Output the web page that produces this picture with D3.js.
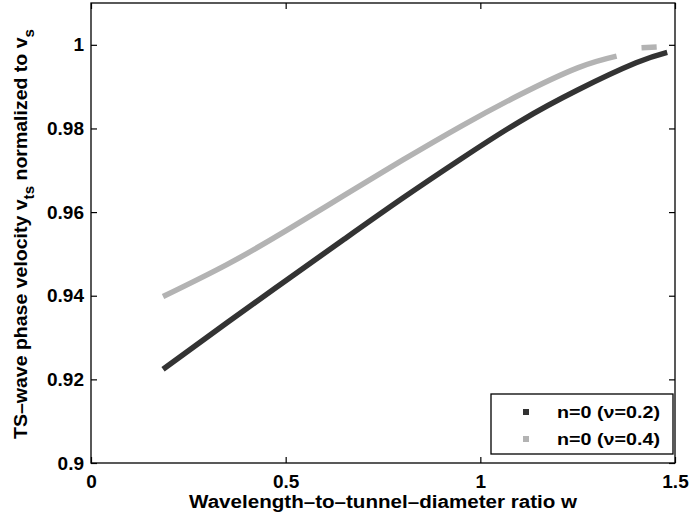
<!DOCTYPE html>
<html>
<head>
<meta charset="utf-8">
<script src="https://cdn.jsdelivr.net/npm/d3@7"></script>
<style>
  html, body { margin: 0; padding: 0; background: #fff; }
  svg { display: block; }
  text { font-family: "Liberation Sans", Arial, Helvetica, sans-serif; font-weight: bold; fill: #000; }
</style>
</head>
<body>
<svg id="chart" width="689" height="517"></svg>
<script>
// Wavelength-to-diameter ratio samples and normalized phase velocity
const wDark  = [0.185, 0.35, 0.5, 0.65, 0.8, 0.95, 1.1, 1.25, 1.4, 1.48];
const vDark  = [0.9224, 0.9336, 0.9436, 0.9535, 0.9633, 0.9727, 0.9816, 0.9892, 0.9957, 0.9982];
const wLight = [0.185, 0.35, 0.5, 0.65, 0.8, 0.95, 1.1, 1.25, 1.35];
const vLight = [0.9398, 0.9475, 0.9555, 0.9640, 0.9724, 0.9805, 0.9880, 0.9945, 0.9973];
const wLightTail = [1.414, 1.453];
const vLightTail = [0.9993, 0.9995];

const xTicks = [0, 0.5, 1, 1.5];
const xTickLabels = ["0", "0.5", "1", "1.5"];
const yTicks = [0.9, 0.92, 0.94, 0.96, 0.98, 1];
const yTickLabels = ["0.9", "0.92", "0.94", "0.96", "0.98", "1"];

const seriesNames = ["n=0 (\u03bd=0.2)", "n=0 (\u03bd=0.4)"];
const seriesColors = ["#333333", "#b3b3b3"];

const svg = d3.select("#chart");
const L = 91, R = 675, T = 3, B = 463;

const x = d3.scaleLinear().domain([0, 1.5]).range([L, R]);
const y = d3.scaleLinear().domain([0.9, 1.01]).range([B, T]);

const line = d3.line()
  .x(d => x(d[0]))
  .y(d => y(d[1]))
  .curve(d3.curveNatural);

const zip = (a, b) => a.map((v, i) => [v, b[i]]);

// curves
svg.append("path").datum(zip(wLight, vLight))
  .attr("d", line).attr("fill", "none")
  .attr("stroke", seriesColors[1]).attr("stroke-width", 5.5);
svg.append("path").datum(zip(wLightTail, vLightTail))
  .attr("d", line).attr("fill", "none")
  .attr("stroke", seriesColors[1]).attr("stroke-width", 5.5);
svg.append("path").datum(zip(wDark, vDark))
  .attr("d", line).attr("fill", "none")
  .attr("stroke", seriesColors[0]).attr("stroke-width", 5.5);

// axes (ticks pointing inward on every side)
const tl = 6;
const axBottom = svg.append("g").attr("transform", `translate(0,${B})`)
  .call(d3.axisBottom(x).tickValues(xTicks).tickSize(-tl).tickPadding(12)
    .tickFormat((d, i) => xTickLabels[i]));
const axTop = svg.append("g").attr("transform", `translate(0,${T})`)
  .call(d3.axisTop(x).tickValues(xTicks).tickSize(-tl).tickFormat(""));
const axLeft = svg.append("g").attr("transform", `translate(${L},0)`)
  .call(d3.axisLeft(y).tickValues(yTicks).tickSize(-tl).tickPadding(7)
    .tickFormat((d, i) => yTickLabels[i]));
const axRight = svg.append("g").attr("transform", `translate(${R},0)`)
  .call(d3.axisRight(y).tickValues(yTicks).tickSize(-tl).tickFormat(""));

[axBottom, axTop, axLeft, axRight].forEach(g => {
  g.select(".domain").remove();
  g.selectAll(".tick line").attr("stroke", "#000").attr("stroke-width", 1.2);
  g.selectAll("text").attr("font-size", 19).attr("font-family", null).attr("fill", "#000");
});

svg.append("rect").attr("x", L).attr("y", T).attr("width", R - L).attr("height", B - T)
  .attr("fill", "none").attr("stroke", "#000").attr("stroke-width", 1.3);

// axis titles
svg.append("text")
  .attr("x", (L + R) / 2).attr("y", 508)
  .attr("text-anchor", "middle").attr("font-size", 18)
  .attr("textLength", 388).attr("lengthAdjust", "spacingAndGlyphs")
  .text("Wavelength\u2013to\u2013tunnel\u2013diameter ratio w");

const yl = svg.append("text")
  .attr("transform", `translate(27,${(T + B) / 2 + 1}) rotate(-90)`)
  .attr("text-anchor", "middle").attr("font-size", 18)
  .attr("textLength", 410).attr("lengthAdjust", "spacingAndGlyphs");
yl.append("tspan").text("TS\u2013wave phase velocity v");
yl.append("tspan").attr("font-size", 14).attr("dy", 7).text("ts");
yl.append("tspan").attr("dy", -7).text(" normalized to v");
yl.append("tspan").attr("font-size", 14).attr("dy", 7).text("s");

// legend
const lg = svg.append("g");
lg.append("rect").attr("x", 491).attr("y", 394).attr("width", 182).attr("height", 60)
  .attr("fill", "#fff").attr("stroke", "#000").attr("stroke-width", 1.3);
seriesNames.forEach((name, i) => {
  const cy = 412 + i * 27;
  lg.append("rect").attr("x", 523).attr("y", cy - 3).attr("width", 6).attr("height", 6)
    .attr("fill", seriesColors[i]);
  lg.append("text").attr("x", 557).attr("y", cy + 6)
    .attr("font-size", 17).attr("textLength", 103).attr("lengthAdjust", "spacingAndGlyphs")
    .text(name);
});
</script>
</body>
</html>
